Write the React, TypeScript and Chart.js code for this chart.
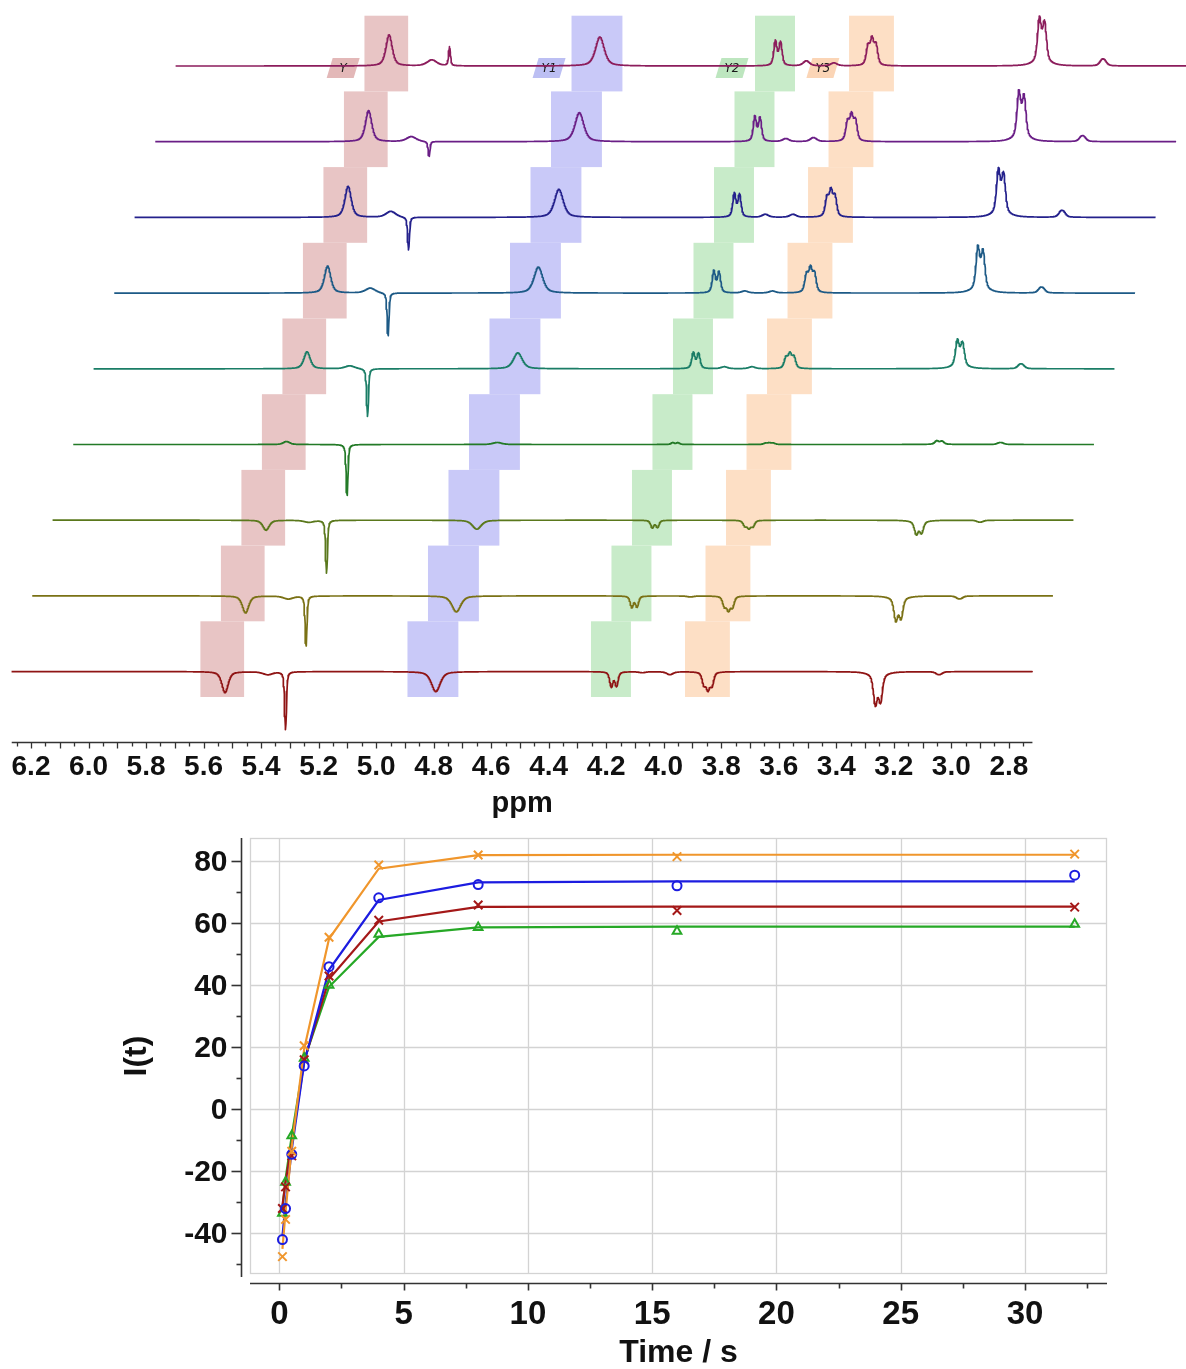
import React, { useEffect, useRef } from "react";
import { Chart, registerables } from "chart.js";

Chart.register(...registerables);

const SANS = '"Liberation Sans", Arial, Helvetica, sans-serif';

/* ---------------- stacked 1H spectra ---------------- */

// chemical-shift window covered by every trace (ppm)
const ppmLeft = 6.267;
const ppmRight = 2.718;
const ppmStep = 0.0012;

// labelled ppm ticks
const ppmLabels = [6.2, 6.0, 5.8, 5.6, 5.4, 5.2, 5.0, 4.8, 4.6, 4.4, 4.2, 4.0, 3.8, 3.6, 3.4, 3.2, 3.0, 2.8];

// trace colours, top trace first
const traceColors = ["#8c1d5c", "#6a1e86", "#24218c", "#1d5a86", "#1a7d66", "#237a27", "#5a781c", "#7a7115", "#8f1414"];

// stagger of the stacked plot
const traceShift = 0.0713; // ppm moved right for each trace up the stack
const traceGap = 75.7; // intensity units between neighbouring baselines
const axisLevel = -676; // intensity level of the ppm axis line
const lorentzFraction = 0.55; // pseudo-Voigt mixing of the line shape

// line groups: [centre ppm, relative height, half width ppm]
const g5525 = [[5.525, 1, 0.013]];
const g5376 = [[5.376, 1, 0.02]];
const g5315 = [[5.315, 1, 0.0038]];
const g4792 = [[4.792, 1, 0.018]];
const g4173 = [[4.182, 1, 0.0065], [4.164, 0.95, 0.0065]];
const g4074 = [[4.074, 1, 0.013]];
const g3978 = [[3.978, 1, 0.013]];
const g3846 = [[3.86, 0.75, 0.0072], [3.846, 1, 0.0072], [3.832, 0.8, 0.0072]];
const g3255 = [[3.264, 1, 0.0078], [3.246, 0.9, 0.0078], [3.255, 0.08, 0.035]];
const g3042 = [[3.047, 1, 0.0095], [3.037, 0.9, 0.0095]];

// peak heights of each group in every trace (top trace first)
const h5525 = [31, 31, 31, 27, 17, 3, -10, -17, -21];
const h5376 = [6, 5, 6, 5, 3, 0, -2, -3, -3];
const h5315 = [19, -15, -33, -43, -48, -51, -53, -50, -58];
const h4792 = [29, 29, 28, 26, 16, 2, -9, -16, -20];
const h4173 = [26, 26, 25, 23, 17, 2, -8, -12, -16];
const h4074 = [5, 3, 3, 2, 2, 0, 0, 0, -1];
const h3978 = [3, 4, 3, 2, 2, 0, 0, -1, -3];
const h3846 = [30, 30, 30, 28, 17, 2, -9, -16, -20];
const h3255 = [50, 52, 50, 48, 30, 4, -15, -26, -35];
const h3042 = [7, 6, 7, 6, 5, 2, -2, -3, -3];

const lineGroups = [g5525, g5376, g5315, g4792, g4173, g4074, g3978, g3846, g3255, g3042];
const groupHeights = [h5525, h5376, h5315, h4792, h4173, h4074, h3978, h3846, h3255, h3042];

// integration regions (bottom-trace ppm limits)
const regionLabels = ["Y", "Y1", "Y2", "Y3"];
const regionLeft = [5.611, 4.891, 4.253, 3.926];
const regionRight = [5.459, 4.714, 4.114, 3.77];
const regionTagAt = [5.685, 4.969, 4.333, 4.017];
const regionFill = ["#e8c5c5", "#c9c9f8", "#c8ebc9", "#fddfc5"];
const tagFill = ["#e3b8b8", "#bcbff3", "#bde6bf", "#fbd5b6"];

/* ---------------- inversion-recovery curves ---------------- */

const delays = [0.125, 0.25, 0.5, 1, 2, 4, 8, 16, 32];
const y3Measured = [-47.5, -35.5, -13.5, 20.5, 55.5, 78.8, 82, 81.5, 82.3];
const y3Fit = [-45, -33, -12, 19.5, 55, 77.6, 82, 82.1, 82.1];
const y1Measured = [-42, -32, -14.5, 14, 46, 68.2, 72.5, 72.1, 75.5];
const y1Fit = [-41, -30.5, -13, 15, 45, 67.5, 73.2, 73.5, 73.5];
const yMeasured = [-32, -25, -15, 16, 43, 61, 65.9, 64.1, 65.2];
const yFit = [-31, -23.5, -11, 15.5, 42, 60.6, 65.3, 65.4, 65.4];
const y2Measured = [-33.5, -23.5, -8.5, 16.5, 40, 56.5, 58.6, 57.4, 59.7];
const y2Fit = [-32, -22.5, -8.5, 16, 39.5, 55.6, 58.7, 58.9, 58.9];

const timeTicks = [0, 5, 10, 15, 20, 25, 30];
const timeMinorTicks = [2.5, 7.5, 12.5, 17.5, 22.5, 27.5, 32.5];
const intensityTicks = [-40, -20, 0, 20, 40, 60, 80];
const intensityMinorTicks = [-50, -30, -10, 10, 30, 50, 70];

/* ---------------- helpers ---------------- */

function lineShape(x: number, c: number, w: number) {
  const d = (x - c) / w;
  const lor = 1 / (1 + d * d);
  const gau = Math.exp(-Math.LN2 * d * d);
  return lorentzFraction * lor + (1 - lorentzFraction) * gau;
}

function groupShape(g: number[][], x: number) {
  let s = 0;
  for (const [c, r, w] of g) s += r * lineShape(x, c, w);
  return s;
}

// scale factor so the tallest point of a group equals one
function groupPeak(g: number[][]) {
  const lo = Math.min(...g.map((l) => l[0])) - 0.03;
  const hi = Math.max(...g.map((l) => l[0])) + 0.03;
  let m = 0;
  for (let x = lo; x <= hi; x += 0.0001) m = Math.max(m, groupShape(g, x));
  return m;
}

function buildTrace(i: number) {
  const norms = lineGroups.map(groupPeak);
  const off = (traceColors.length - 1 - i) * traceShift;
  const base = -i * traceGap;
  const n = Math.round((ppmLeft - ppmRight) / ppmStep);
  const pts: { x: number; y: number }[] = [];
  for (let k = 0; k <= n; k++) {
    const p = ppmRight + k * ppmStep;
    let v = 0;
    for (let g = 0; g < lineGroups.length; g++) {
      const h = groupHeights[g][i];
      if (h !== 0) v += (h * groupShape(lineGroups[g], p)) / norms[g];
    }
    pts.push({ x: p - off, y: base + v });
  }
  return pts;
}

function seg(ctx: CanvasRenderingContext2D, x0: number, y0: number, x1: number, y1: number) {
  ctx.beginPath();
  ctx.moveTo(x0, y0);
  ctx.lineTo(x1, y1);
  ctx.stroke();
}

/* ---------------- plugins ---------------- */

const spectraDecor = {
  id: "spectraDecor",
  beforeDatasetsDraw(chart: any) {
    const { ctx, scales } = chart;
    const x = scales.x;
    const y = scales.y;
    ctx.save();
    // staircase of integration regions
    traceColors.forEach((_c, i) => {
      const off = (traceColors.length - 1 - i) * traceShift;
      const base = -i * traceGap;
      const yTop = y.getPixelForValue(base + 50.3);
      const yBot = y.getPixelForValue(base - 25.4);
      regionLeft.forEach((l, r) => {
        const x0 = x.getPixelForValue(l - off);
        const x1 = x.getPixelForValue(regionRight[r] - off);
        ctx.fillStyle = regionFill[r];
        ctx.fillRect(x0, yTop, x1 - x0, yBot - yTop);
      });
    });
    // region name tags on the top trace
    const off0 = (traceColors.length - 1) * traceShift;
    regionTagAt.forEach((p, r) => {
      const cx = x.getPixelForValue(p - off0);
      const cy = y.getPixelForValue(-2);
      const w = 27;
      const h = 20;
      const sk = 6;
      ctx.beginPath();
      ctx.moveTo(cx - w / 2 + sk / 2, cy - h / 2);
      ctx.lineTo(cx + w / 2 + sk / 2, cy - h / 2);
      ctx.lineTo(cx + w / 2 - sk / 2, cy + h / 2);
      ctx.lineTo(cx - w / 2 - sk / 2, cy + h / 2);
      ctx.closePath();
      ctx.fillStyle = tagFill[r];
      ctx.fill();
      ctx.fillStyle = "#1a1a1a";
      ctx.font = 'italic 12px "DejaVu Sans", sans-serif';
      ctx.textAlign = "center";
      ctx.textBaseline = "middle";
      ctx.fillText(regionLabels[r], cx, cy + 1);
    });
    ctx.restore();
  },
  afterDraw(chart: any) {
    const { ctx, scales } = chart;
    const x = scales.x;
    const y = scales.y;
    const ay = Math.round(y.getPixelForValue(axisLevel)) + 0.5;
    ctx.save();
    ctx.strokeStyle = "#333";
    ctx.lineWidth = 1.6;
    seg(ctx, x.getPixelForValue(ppmLeft), ay, x.getPixelForValue(ppmRight), ay);
    ctx.lineWidth = 1.3;
    for (let k = 55; k <= 125; k++) {
      const px = Math.round(x.getPixelForValue(k / 20)) + 0.5;
      seg(ctx, px, ay, px, ay + (k % 2 === 0 ? 6 : 4));
    }
    ctx.fillStyle = "#111";
    ctx.font = `bold 28px ${SANS}`;
    ctx.textAlign = "center";
    ctx.textBaseline = "middle";
    ppmLabels.forEach((v) => ctx.fillText(v.toFixed(1), x.getPixelForValue(v), ay + 25));
    ctx.font = `bold 29px ${SANS}`;
    const mid = (x.getPixelForValue(ppmLeft) + x.getPixelForValue(ppmRight)) / 2;
    ctx.fillText("ppm", mid, ay + 61);
    ctx.restore();
  },
};

const recoveryDecor = {
  id: "recoveryDecor",
  beforeDatasetsDraw(chart: any) {
    const { ctx, chartArea: a, scales } = chart;
    const x = scales.x;
    const y = scales.y;
    ctx.save();
    ctx.strokeStyle = "#d3d3d3";
    ctx.lineWidth = 1.3;
    timeTicks.forEach((v) => {
      const px = Math.round(x.getPixelForValue(v)) + 0.5;
      seg(ctx, px, a.top, px, a.bottom);
    });
    intensityTicks.forEach((v) => {
      const py = Math.round(y.getPixelForValue(v)) + 0.5;
      seg(ctx, a.left, py, a.right, py);
    });
    ctx.strokeRect(a.left + 0.5, a.top + 0.5, a.width - 1, a.height - 1);
    ctx.restore();
  },
  afterDraw(chart: any) {
    const { ctx, chartArea: a, scales } = chart;
    const x = scales.x;
    const y = scales.y;
    ctx.save();
    ctx.strokeStyle = "#333";
    ctx.fillStyle = "#111";
    ctx.lineWidth = 1.6;
    // intensity axis, set off to the left of the frame
    const ax = a.left - 8.5;
    seg(ctx, ax, a.top, ax, a.bottom + 3);
    intensityTicks.forEach((v) => {
      const py = Math.round(y.getPixelForValue(v)) + 0.5;
      seg(ctx, ax - 10, py, ax, py);
    });
    intensityMinorTicks.forEach((v) => {
      const py = Math.round(y.getPixelForValue(v)) + 0.5;
      seg(ctx, ax - 5, py, ax, py);
    });
    ctx.font = `bold 30px ${SANS}`;
    ctx.textAlign = "right";
    ctx.textBaseline = "middle";
    intensityTicks.forEach((v) => ctx.fillText(String(v), ax - 14, y.getPixelForValue(v) + 1));
    // time axis, set off below the frame
    const ay = a.bottom + 9.5;
    seg(ctx, a.left, ay, a.right, ay);
    timeTicks.forEach((v) => {
      const px = Math.round(x.getPixelForValue(v)) + 0.5;
      seg(ctx, px, ay, px, ay + 7);
    });
    timeMinorTicks.forEach((v) => {
      const px = Math.round(x.getPixelForValue(v)) + 0.5;
      seg(ctx, px, ay, px, ay + 5);
    });
    ctx.font = `bold 33px ${SANS}`;
    ctx.textAlign = "center";
    timeTicks.forEach((v) => ctx.fillText(String(v), x.getPixelForValue(v), ay + 31));
    ctx.font = `bold 32px ${SANS}`;
    ctx.fillText("Time / s", (a.left + a.right) / 2, ay + 70);
    ctx.translate(a.left - 113, (a.top + a.bottom) / 2);
    ctx.rotate(-Math.PI / 2);
    ctx.fillText("I(t)", 0, 0);
    ctx.restore();
  },
};

/* ---------------- component ---------------- */

function pairs(ys: number[]) {
  return delays.map((t, k) => ({ x: t, y: ys[k] }));
}

export default function App() {
  const topRef = useRef<HTMLCanvasElement>(null);
  const botRef = useRef<HTMLCanvasElement>(null);

  useEffect(() => {
    const spectra = new Chart(topRef.current!, {
      type: "line",
      data: {
        datasets: traceColors.map((c, i) => ({
          data: buildTrace(i),
          borderColor: c,
          borderWidth: 1.7,
          borderJoinStyle: "round",
          pointRadius: 0,
          tension: 0,
          fill: false,
        })),
      },
      options: {
        responsive: false,
        animation: false,
        devicePixelRatio: 1,
        events: [],
        parsing: false,
        layout: { padding: 0 },
        plugins: { legend: { display: false }, tooltip: { enabled: false } },
        scales: {
          x: { type: "linear", display: false, reverse: true, min: 2.184, max: 6.3078 },
          y: { type: "linear", display: false, min: -754, max: 66 },
        },
      },
      plugins: [spectraDecor],
    } as any);

    const seriesColor = { y3: "#f0962c", y1: "#1c1ce0", y: "#a41818", y2: "#26a826" };
    const marker = (ys: number[], color: string, style: string, r: number) => ({
      data: pairs(ys),
      showLine: false,
      borderColor: color,
      backgroundColor: "rgba(0,0,0,0)",
      pointStyle: style,
      pointRadius: r,
      pointBorderWidth: 2,
    });
    const fit = (ys: number[], color: string) => ({
      data: pairs(ys),
      borderColor: color,
      borderWidth: 2.2,
      pointRadius: 0,
      tension: 0,
      fill: false,
    });

    const recovery = new Chart(botRef.current!, {
      type: "line",
      data: {
        datasets: [
          marker(y3Measured, seriesColor.y3, "crossRot", 6),
          marker(y1Measured, seriesColor.y1, "circle", 4.5),
          marker(yMeasured, seriesColor.y, "crossRot", 6),
          marker(y2Measured, seriesColor.y2, "triangle", 5),
          fit(y3Fit, seriesColor.y3),
          fit(y1Fit, seriesColor.y1),
          fit(yFit, seriesColor.y),
          fit(y2Fit, seriesColor.y2),
        ],
      },
      options: {
        responsive: false,
        animation: false,
        devicePixelRatio: 1,
        events: [],
        layout: { padding: { left: 250, right: 79, top: 18, bottom: 95 } },
        plugins: { legend: { display: false }, tooltip: { enabled: false } },
        scales: {
          x: { type: "linear", display: false, min: -1.18, max: 33.3 },
          y: { type: "linear", display: false, min: -53.1, max: 87.5 },
        },
      },
      plugins: [recoveryDecor],
    } as any);

    return () => {
      spectra.destroy();
      recovery.destroy();
    };
  }, []);

  return (
    <div style={{ position: "absolute", left: 0, top: 0, width: 1186, height: 1369, background: "#fff" }}>
      <canvas ref={topRef} width={1186} height={820} style={{ position: "absolute", left: 0, top: 0 }} />
      <canvas ref={botRef} width={1186} height={549} style={{ position: "absolute", left: 0, top: 820 }} />
    </div>
  );
}
